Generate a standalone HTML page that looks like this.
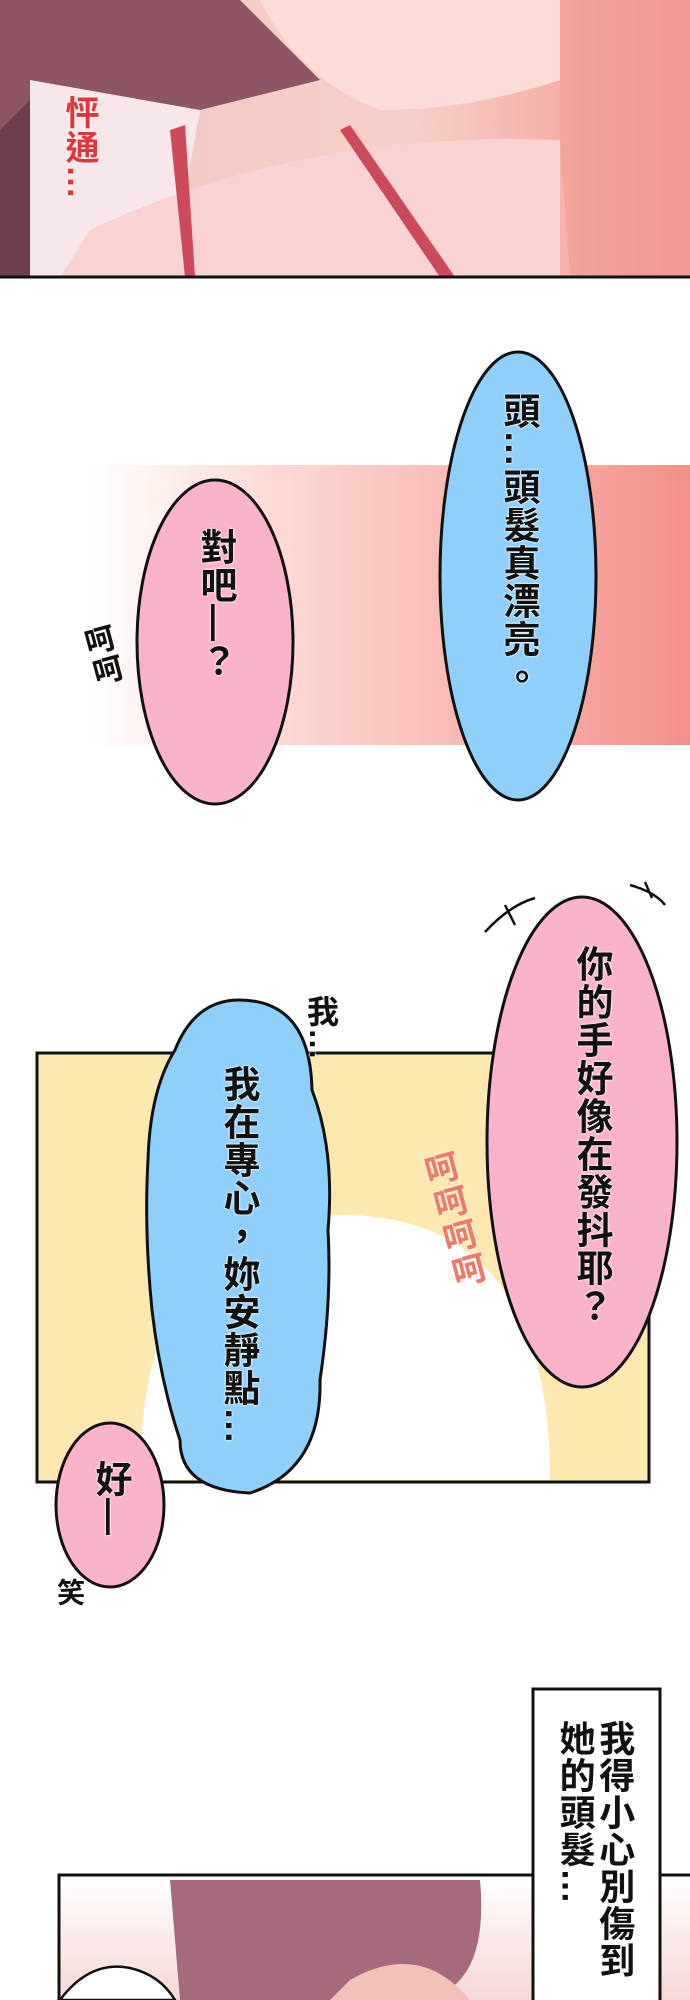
<!DOCTYPE html>
<html><head><meta charset="utf-8"><style>
body{margin:0;width:690px;height:2000px;position:relative;overflow:hidden;background:#fff;font-family:"Liberation Sans","Noto Sans CJK TC",sans-serif}
.a{position:absolute}
.v{position:absolute;writing-mode:vertical-rl;font-size:37px;line-height:1;color:#111;letter-spacing:1px;font-weight:bold;text-shadow:0 0 2px #fff,0 0 2px #fff}
</style></head><body>
<svg class="a" style="left:0;top:0" width="690" height="2000">
<defs>
<linearGradient id="p1" x1="0" y1="0" x2="1" y2="0"><stop offset="0" stop-color="#f3c6c2"/><stop offset="0.6" stop-color="#f6cfc8"/><stop offset="1" stop-color="#f0948e"/></linearGradient>
<linearGradient id="band" x1="0" y1="0" x2="1" y2="0"><stop offset="0" stop-color="#fff"/><stop offset="0.3" stop-color="#fcdcd6"/><stop offset="1" stop-color="#f4918a"/></linearGradient>
<linearGradient id="p3" x1="0" y1="0" x2="0" y2="1"><stop offset="0" stop-color="#fff"/><stop offset="1" stop-color="#f6d6d6"/></linearGradient>
</defs>
<rect x="0" y="0" width="690" height="277" fill="url(#p1)"/>
<path d="M0 0 L240 0 Q300 60 320 80 L200 110 L60 130 L0 130Z" fill="#8e5563"/>
<path d="M0 130 L40 90 L40 277 L0 277Z" fill="#6f3e4f"/>
<path d="M30 80 L200 110 L170 277 L30 277Z" fill="#f7e7ea"/>
<path d="M260 0 L560 0 L560 80 Q470 110 380 110 Q300 80 260 0Z" fill="#fbdcd6"/>
<path d="M90 230 Q300 130 560 140 L570 277 L60 277Z" fill="#f9d3d1"/>
<path d="M170 130 L185 277 L195 277 L185 125Z" fill="#cc4a5a"/>
<path d="M340 130 L440 277 L455 277 L350 125Z" fill="#cc4a5a"/>
<path d="M560 0 L690 0 L690 277 L560 277Z" fill="#f19d96" opacity="0.6"/>
<line x1="0" y1="277" x2="690" y2="277" stroke="#111" stroke-width="3"/>
<rect x="85" y="465" width="605" height="280" fill="url(#band)"/>
<ellipse cx="518" cy="576" rx="78" ry="224" fill="#8fd0fb" stroke="#111" stroke-width="3"/>
<ellipse cx="215" cy="642" rx="78" ry="162" fill="#fab3c9" stroke="#111" stroke-width="3"/>
<rect x="37" y="1053" width="612" height="429" fill="#fde9b0" stroke="#111" stroke-width="3"/>
<path d="M140 1480 Q140 1215 340 1215 Q550 1215 550 1480Z" fill="#fff"/>
<ellipse cx="582" cy="1142" rx="95" ry="245" fill="#fab3c9" stroke="#111" stroke-width="3"/>
<path d="M485 932 Q510 905 535 898 M505 905 L515 925 M630 885 Q655 892 665 905 M645 882 L652 898" stroke="#111" stroke-width="2.5" fill="none"/>
<path d="M239 1000 Q310 1000 312 1090 Q335 1150 328 1230 Q332 1300 320 1380 Q322 1470 250 1493 Q180 1490 180 1440 Q160 1380 152 1310 Q144 1230 148 1160 Q150 1090 175 1050 Q195 1000 239 1000Z" fill="#8fd0fb" stroke="#111" stroke-width="3"/>
<ellipse cx="110" cy="1505" rx="54" ry="82" fill="#fab3c9" stroke="#111" stroke-width="3"/>
<rect x="59" y="1875" width="640" height="130" fill="url(#p3)" stroke="#111" stroke-width="3"/>
<path d="M170 1880 L480 1880 Q490 1990 420 2000 L180 2000Z" fill="#a56a7c"/>
<path d="M350 1980 Q420 1940 470 2000 L330 2000Z" fill="#f2c2b8"/>
<path d="M60 2000 Q90 1960 130 1968 Q160 1975 175 2000Z" fill="#fff" stroke="#111" stroke-width="2.5"/>
<rect x="533" y="1689" width="127" height="320" fill="#fff" stroke="#111" stroke-width="3"/>
</svg>
<div class="v" style="left:62px;top:95px;color:#e0353f;font-size:34px">怦通…</div>
<div class="v" style="left:500px;top:392px">頭…頭髮真漂亮。</div>
<div class="v" style="left:197px;top:528px">對吧—？</div>
<div class="v" style="left:85px;top:625px;font-size:30px;transform:rotate(-15deg)">呵呵</div>
<div class="v" style="left:573px;top:945px">你的手好像在發抖耶？</div>
<div class="v" style="left:220px;top:1065px">我在專心，妳安靜點…</div>
<div class="v" style="left:305px;top:995px;font-size:32px">我…</div>
<div class="v" style="left:435px;top:1150px;color:#ef7a6a;font-size:34px;transform:rotate(-15deg)">呵呵呵呵</div>
<div class="v" style="left:92px;top:1460px">好—</div>
<div class="v" style="left:55px;top:1578px;font-size:28px">笑</div>
<div class="v" style="left:555px;top:1720px;font-size:36px;line-height:1.1">我得小心別傷到她的頭髮…</div>
</body></html>
